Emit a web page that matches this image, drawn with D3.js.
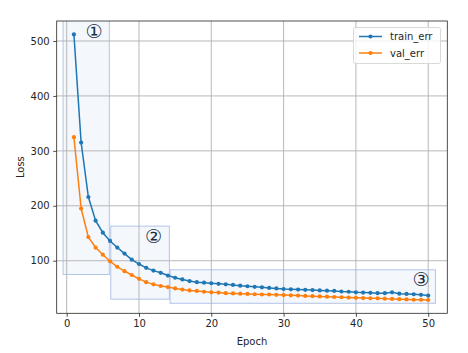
<!DOCTYPE html>
<html>
<head>
<meta charset="utf-8">
<script src="https://cdn.jsdelivr.net/npm/d3@7"></script>
<style>
  body { margin: 0; background: #fff; }
  svg text { font-family: "DejaVu Sans", sans-serif; fill: #262626; }
</style>
</head>
<body>
<svg id="chart" width="468" height="353"></svg>
<script>
const epochs = d3.range(1, 51);

const trainErr = [512, 315, 216, 173, 151, 136, 124, 113, 102, 94,
    87, 82, 78, 73, 69, 66, 63, 61, 60, 59,
    58, 57, 56, 54.5, 53.5, 52.5, 51.5, 50.5, 49.5, 48.5,
    48, 47.5, 47, 46.5, 46, 45.5, 45, 44, 43.5, 42.5,
    42, 41.5, 41, 41, 42.5, 40, 39.5, 39, 38, 36.5];

const valErr = [325, 195, 143, 124, 111, 99, 89, 81, 74, 67,
    61, 57, 54, 52, 49.5, 47.5, 46, 45, 43.5, 42.5,
    42, 41, 40.5, 40, 39.5, 39, 38.5, 38.5, 38, 37.5,
    37, 36.5, 36, 35.5, 35, 34.5, 34, 33.5, 33, 32.5,
    32, 31.5, 31.5, 31, 30.5, 30, 29.5, 29, 29, 28.5];

const seriesNames = ['train_err', 'val_err'];
const xTicks = [0, 10, 20, 30, 40, 50];
const yTicks = [100, 200, 300, 400, 500];

// highlighted regions: [x0, x1, y0, y1] and their labels
const regions = [[-0.5, 5.9, 75, 540], [6.1, 14.2, 30, 163], [14.3, 51, 22.5, 83.5]];
const regionLabels = ['\u2460', '\u2461', '\u2462'];
const labelPos = [[3.8, 519], [12.0, 145], [49.0, 67]];

const margin = {left: 56.7, top: 21, right: 468 - 447.3, bottom: 353 - 313.3};
const width = 468 - margin.left - margin.right;
const height = 353 - margin.top - margin.bottom;

const blue = '#1f77b4', orange = '#ff7f0e';

const svg = d3.select('#chart');

const x = d3.scaleLinear().domain([-1.38, 52.64]).range([0, width]);
const y = d3.scaleLinear().domain([4.3, 536.4]).range([height, 0]);

svg.append('defs').append('clipPath').attr('id', 'clip')
    .append('rect').attr('width', width).attr('height', height);

const g = svg.append('g').attr('transform', `translate(${margin.left},${margin.top})`);
const plot = g.append('g').attr('clip-path', 'url(#clip)');

// boxes
plot.selectAll('rect.region')
    .data(regions).enter()
    .append('rect')
        .attr('class', 'region')
        .attr('x', d => x(d[0]))
        .attr('y', d => y(d[3]))
        .attr('width', d => x(d[1]) - x(d[0]))
        .attr('height', d => y(d[2]) - y(d[3]))
        .attr('fill', '#f4f7fc')
        .attr('stroke', '#b3c5e8')
        .attr('stroke-width', 1);

// grid
plot.selectAll('line.gx')
    .data(xTicks).enter()
    .append('line')
        .attr('x1', d => x(d)).attr('x2', d => x(d))
        .attr('y1', 0).attr('y2', height)
        .attr('stroke', '#b0b0b0').attr('stroke-width', 0.9);

plot.selectAll('line.gy')
    .data(yTicks).enter()
    .append('line')
        .attr('y1', d => y(d)).attr('y2', d => y(d))
        .attr('x1', 0).attr('x2', width)
        .attr('stroke', '#b0b0b0').attr('stroke-width', 0.9);

// series
const series = [trainErr, valErr];
const colors = [blue, orange];
const line = d3.line().x((d, i) => x(epochs[i])).y(d => y(d));

series.forEach((s, k) => {
    plot.append('path')
        .attr('d', line(s))
        .attr('fill', 'none')
        .attr('stroke', colors[k])
        .attr('stroke-width', 1.5);
    plot.selectAll(null)
        .data(s).enter()
        .append('circle')
            .attr('cx', (d, i) => x(epochs[i]))
            .attr('cy', d => y(d))
            .attr('r', 2.1)
            .attr('fill', colors[k]);
});

// region labels
plot.selectAll('text.lab')
    .data(regionLabels).enter()
    .append('text')
        .attr('x', (d, i) => x(labelPos[i][0]))
        .attr('y', (d, i) => y(labelPos[i][1]))
        .attr('text-anchor', 'middle')
        .attr('dominant-baseline', 'central')
        .style('font-size', '19px')
        .style('fill', '#1c3148')
        .text(d => d);

// axes
const xAxis = g.append('g')
    .attr('transform', `translate(0,${height})`)
    .call(d3.axisBottom(x).tickValues(xTicks).tickSize(3.5).tickPadding(3.5));
const yAxis = g.append('g')
    .call(d3.axisLeft(y).tickValues(yTicks).tickSize(3.5).tickPadding(3.5));

[xAxis, yAxis].forEach(a => {
    a.select('.domain').remove();
    a.selectAll('text').style('font-size', '10px').style('fill', '#262626');
    a.selectAll('line').attr('stroke', '#262626').attr('stroke-width', 0.8);
});

g.append('rect')
    .attr('width', width).attr('height', height)
    .attr('fill', 'none').attr('stroke', '#262626').attr('stroke-width', 0.8);

svg.append('text')
    .attr('x', margin.left + width / 2)
    .attr('y', 345)
    .attr('text-anchor', 'middle')
    .style('font-size', '10px')
    .text('Epoch');

svg.append('text')
    .attr('transform', `translate(20,${margin.top + height / 2}) rotate(-90)`)
    .attr('text-anchor', 'middle')
    .attr('dominant-baseline', 'central')
    .style('font-size', '10px')
    .text('Loss');

// legend
const legend = svg.append('g').attr('transform', 'translate(353.5,27.5)');
legend.append('rect')
    .attr('width', 87).attr('height', 36).attr('rx', 2)
    .attr('fill', '#fff').attr('fill-opacity', 0.8)
    .attr('stroke', '#d0d0d0').attr('stroke-width', 0.8);

seriesNames.forEach((name, k) => {
    const ly = 9 + k * 16.5;
    legend.append('line')
        .attr('x1', 5.5).attr('x2', 28.5)
        .attr('y1', ly).attr('y2', ly)
        .attr('stroke', colors[k]).attr('stroke-width', 1.5);
    legend.append('circle')
        .attr('cx', 17).attr('cy', ly).attr('r', 2.1)
        .attr('fill', colors[k]);
    legend.append('text')
        .attr('x', 36.5).attr('y', ly)
        .attr('dominant-baseline', 'central')
        .style('font-size', '10px')
        .text(name);
});
</script>
</body>
</html>
